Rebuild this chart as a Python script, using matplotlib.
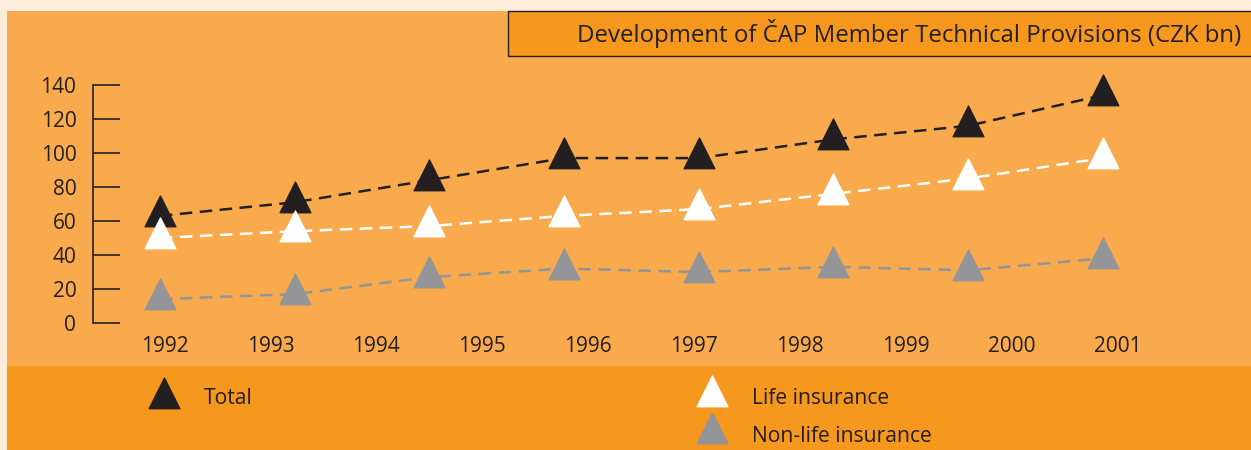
import matplotlib.pyplot as plt
from matplotlib.path import Path
from matplotlib.patches import Rectangle
import numpy as np

# data (CZK bn)
years = ['1992', '1993', '1994', '1995', '1996', '1997', '1998', '1999', '2000', '2001']
total = [63, 71, 84, 97, 97, 108, 116, 134]
life = [50, 54, 57, 63, 67, 76, 85, 97]
non_life = [14, 17, 27, 32, 30, 33, 31, 38]

title = 'Development of ČAP Member Technical Provisions (CZK bn)'
labels = ['Total', 'Life insurance', 'Non-life insurance']

plt.rcParams['font.family'] = ['Open Sans', 'DejaVu Sans']

cream = '#FDECD9'
orange = '#F9AA4C'
dark_orange = '#F7981E'
ink = '#231F20'
grey = '#939598'

# triangle centred on its centroid
tri = Path([(0, 2), (-1.5, -1), (1.5, -1), (0, 2)],
           [Path.MOVETO, Path.LINETO, Path.LINETO, Path.CLOSEPOLY])

W, H = 1251, 450
fig = plt.figure(figsize=(W / 100, H / 100), dpi=100, facecolor=cream)

# background / decoration layer in pixel coords
bg = fig.add_axes([0, 0, 1, 1], zorder=0)
bg.set_xlim(0, W)
bg.set_ylim(H, 0)
bg.axis('off')
bg.add_patch(Rectangle((7, 11), W, 355, facecolor=orange, edgecolor='none'))
bg.add_patch(Rectangle((7, 366), W, 90, facecolor=dark_orange, edgecolor='none'))
bg.add_patch(Rectangle((508, 11), 760, 45, facecolor=dark_orange, edgecolor=ink, lw=1.0))
bg.text(1241, 33, title, ha='right', va='center', fontsize=17.3, color=ink)

# legend: (marker x, marker y, text y)
leg_items = [(164, 398, 399, ink), (712, 396, 399, 'white'), (712, 433, 437, grey)]
for (lx, my, ty, col), lab in zip(leg_items, labels):
    bg.plot(lx, my, marker=tri, ms=29.5, color=col, ls='none')
    bg.text(lx + 40, ty, lab, ha='left', va='center', fontsize=15.2, color=ink)

# main chart
ax = fig.add_axes([93 / W, (H - 323) / H, (1240 - 93) / W, 238 / H], zorder=1)
ax.set_facecolor('none')

idx = np.arange(len(total))
series = [(total, ink), (life, 'white'), (non_life, grey)]
for vals, col in series:
    ax.plot(idx, vals, ls=(0, (5, 3)), lw=1.8, color=col, zorder=2, clip_on=False)
    ax.plot(idx, vals, ls='none', marker=tri, ms=29.5, color=col, zorder=3, clip_on=False)

# points are spaced 134.7 px apart, year labels 105.9 px apart
ax.set_xlim(-0.497, 8.018)
ax.set_ylim(0, 140)
ax.set_yticks(range(0, 141, 20))
ax.set_xticks(0.034 + 0.786 * np.arange(len(years)))
ax.set_xticklabels(years)

for s in ['top', 'right', 'bottom']:
    ax.spines[s].set_visible(False)
ax.spines['left'].set_color(ink)
ax.spines['left'].set_linewidth(1.2)
ax.tick_params(axis='y', direction='in', length=19.5, width=1.2, color=ink,
               pad=12, labelsize=15, labelcolor=ink)
ax.tick_params(axis='x', length=0, pad=9.5, labelsize=15, labelcolor=ink)

fig.savefig('out.png', dpi=100, facecolor=cream)
